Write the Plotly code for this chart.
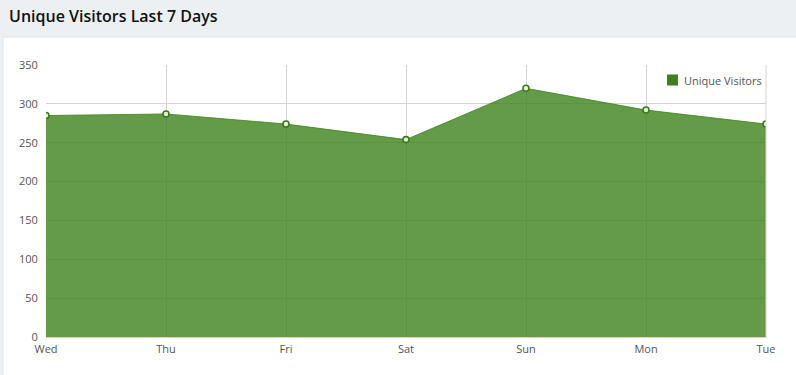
import plotly.graph_objects as go

days = ["Wed", "Thu", "Fri", "Sat", "Sun", "Mon", "Tue"]
visitors = [285, 287, 274, 254, 320, 292, 274]
y_ticks = [0, 50, 100, 150, 200, 250, 300, 350]
series_name = "Unique Visitors"
title_text = "Unique Visitors Last 7 Days"

W, H = 796, 375
ML, MR, MT, MB = 46, 30, 65, 38
PW, PH = W - ML - MR, H - MT - MB

def px(x):
    return (x - ML) / PW

def py(y):
    return (H - MB - y) / PH

fig = go.Figure()
fig.add_trace(go.Scatter(
    x=days, y=visitors, mode="lines+markers", fill="tozeroy",
    fillcolor="rgba(64,132,30,0.81)",
    line=dict(color="rgba(64,132,30,0.81)", width=1),
    marker=dict(symbol="circle", size=6, color="#e8f0e0",
                line=dict(width=1.6, color="#3b7a18")),
    name=series_name, showlegend=False, hoverinfo="x+y",
))

fig.update_layout(
    width=W, height=H,
    margin=dict(l=ML, r=MR, t=MT, b=MB),
    paper_bgcolor="#ecf0f3",
    plot_bgcolor="rgba(0,0,0,0)",
    font=dict(family="Open Sans", size=11, color="#555"),
    xaxis=dict(
        type="category", range=[0, 6], showgrid=True, gridcolor="#d4d4d4",
        gridwidth=1, zeroline=False, showline=True, linecolor="#d4d4d4",
        ticks="outside", ticklen=2, tickcolor="rgba(0,0,0,0)",
        tickfont=dict(size=11, color="#555"), fixedrange=True,
    ),
    yaxis=dict(
        range=[0, 350], tickvals=y_ticks, showgrid=True, gridcolor="#d4d4d4",
        zeroline=False, showline=False, ticks="outside", ticklen=5,
        tickcolor="rgba(0,0,0,0)",
        tickfont=dict(size=11, color="#555"), fixedrange=True,
    ),
    showlegend=False,
    shapes=[
        dict(type="rect", xref="paper", yref="paper", layer="below",
             x0=px(3), x1=px(W + 5), y0=py(H + 5), y1=py(37),
             fillcolor="#ffffff", line=dict(color="#dfe4e8", width=1)),
        dict(type="line", xref="paper", yref="paper", layer="above",
             x0=1, x1=1, y0=0, y1=1, line=dict(color="#d4d4d4", width=1)),
        # legend swatch
        dict(type="rect", xref="paper", yref="paper", layer="above",
             x0=px(667), x1=px(678), y0=py(85.5), y1=py(74.5),
             fillcolor="#3f7f1e", line=dict(width=0)),
    ],
    annotations=[
        dict(text=title_text, xref="paper", yref="paper",
             x=px(7), y=py(16), xanchor="left", yanchor="middle",
             showarrow=False,
             font=dict(family="Open Sans", size=16, color="#111", weight=600)),
        dict(text=series_name, xref="paper", yref="paper",
             x=px(682), y=py(80), xanchor="left", yanchor="middle",
             showarrow=False, font=dict(family="Open Sans", size=11, color="#555")),
    ],
)

fig.write_html("out.html", config={"displayModeBar": False},
               post_script="document.body.style.margin='0';document.body.style.overflow='hidden';")
